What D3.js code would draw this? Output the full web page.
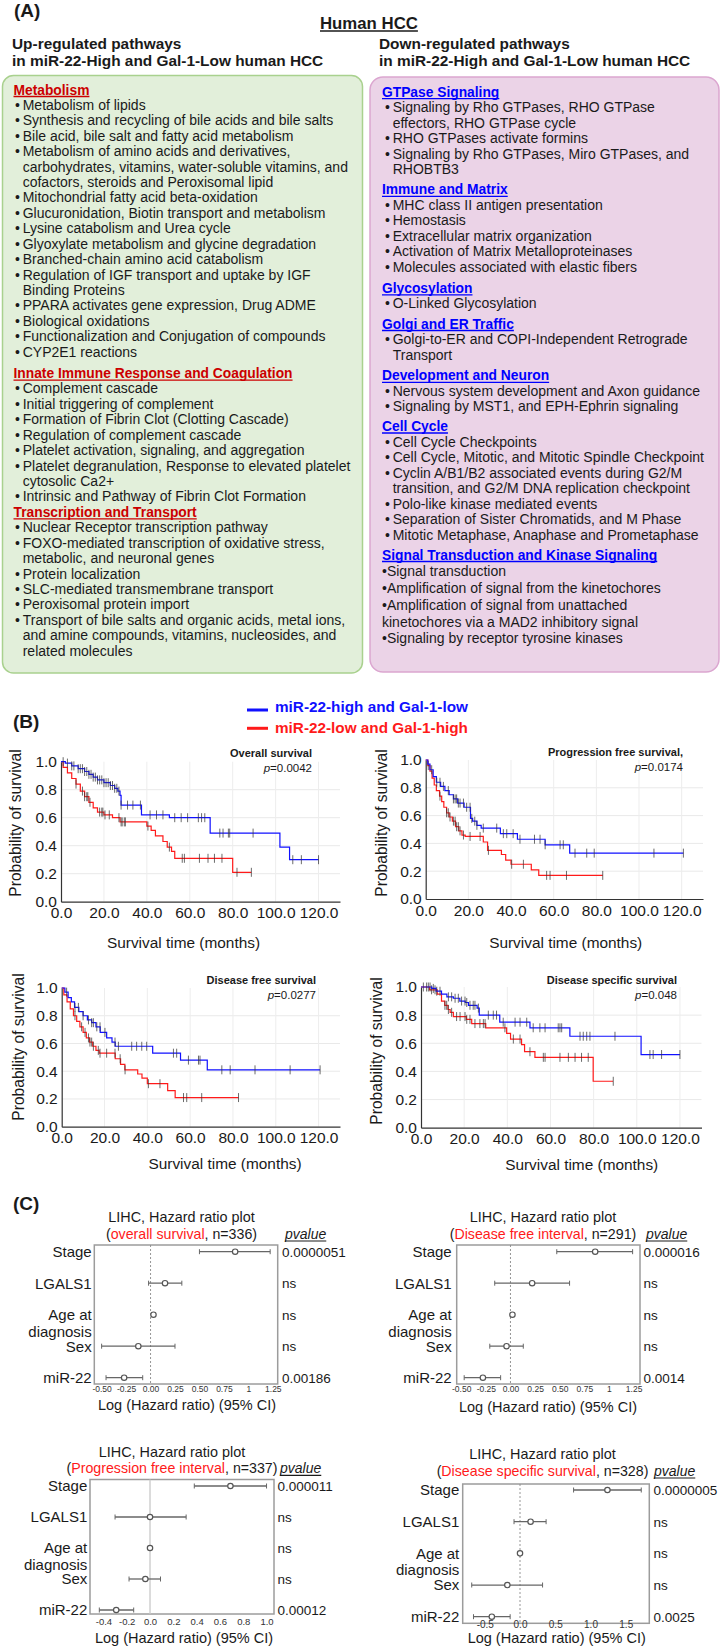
<!DOCTYPE html>
<html>
<head>
<meta charset="utf-8">
<script src="https://cdn.jsdelivr.net/npm/d3@7"></script>
<style>
  body { margin: 0; background: #fff; }
  svg text { font-family: "Liberation Sans", Arial, sans-serif; fill: #1a1a1a; }
</style>
</head>
<body>
<svg id="fig" width="721" height="1651"></svg>
<script>

// ---------- Panel A: pathway lists ----------
const upSections = [
    { title: 'Metabolism', items: [
        'Metabolism of lipids',
        'Synthesis and recycling of bile acids and bile salts',
        'Bile acid, bile salt and fatty acid metabolism',
        'Metabolism of amino acids and derivatives,|carbohydrates, vitamins, water-soluble vitamins, and|cofactors, steroids and Peroxisomal lipid',
        'Mitochondrial fatty acid beta-oxidation',
        'Glucuronidation, Biotin transport and metabolism',
        'Lysine catabolism and Urea cycle',
        'Glyoxylate metabolism and glycine degradation',
        'Branched-chain amino acid catabolism',
        'Regulation of IGF transport and uptake by IGF|Binding Proteins',
        'PPARA activates gene expression, Drug ADME',
        'Biological oxidations',
        'Functionalization and Conjugation of compounds',
        'CYP2E1 reactions'
    ]},
    { title: 'Innate Immune Response and Coagulation', items: [
        'Complement cascade',
        'Initial triggering of complement',
        'Formation of Fibrin Clot (Clotting Cascade)',
        'Regulation of complement cascade',
        'Platelet activation, signaling, and aggregation',
        'Platelet degranulation, Response to elevated platelet|cytosolic Ca2+',
        'Intrinsic and Pathway of Fibrin Clot Formation'
    ]},
    { title: 'Transcription and Transport', items: [
        'Nuclear Receptor transcription pathway',
        'FOXO-mediated transcription of oxidative stress,|metabolic, and neuronal genes',
        'Protein localization',
        'SLC-mediated transmembrane transport',
        'Peroxisomal protein import',
        'Transport of bile salts and organic acids, metal ions,|and amine compounds, vitamins, nucleosides, and|related molecules'
    ]}
];

const downSections = [
    { title: 'GTPase Signaling', items: [
        'Signaling by Rho GTPases, RHO GTPase|effectors, RHO GTPase cycle',
        'RHO GTPases activate formins',
        'Signaling by Rho GTPases, Miro GTPases, and|RHOBTB3'
    ]},
    { title: 'Immune and Matrix', items: [
        'MHC class II antigen presentation',
        'Hemostasis',
        'Extracellular matrix organization',
        'Activation of Matrix Metalloproteinases',
        'Molecules associated with elastic fibers'
    ]},
    { title: 'Glycosylation', items: ['O-Linked Glycosylation'] },
    { title: 'Golgi and ER Traffic', items: ['Golgi-to-ER and COPI-Independent Retrograde|Transport'] },
    { title: 'Development and Neuron', items: [
        'Nervous system development and Axon guidance',
        'Signaling by MST1, and EPH-Ephrin signaling'
    ]},
    { title: 'Cell Cycle', items: [
        'Cell Cycle Checkpoints',
        'Cell Cycle, Mitotic, and Mitotic Spindle Checkpoint',
        'Cyclin A/B1/B2 associated events during G2/M|transition, and G2/M DNA replication checkpoint',
        'Polo-like kinase mediated events',
        'Separation of Sister Chromatids, and M Phase',
        'Mitotic Metaphase, Anaphase and Prometaphase'
    ]},
    { title: 'Signal Transduction and Kinase Signaling', items: [
        'Signal transduction',
        'Amplification of signal from the kinetochores',
        'Amplification of signal from unattached|kinetochores via a MAD2 inhibitory signal',
        'Signaling by receptor tyrosine kinases'
    ]}
];

// ---------- Panel B: Kaplan-Meier steps [month, survival] ----------
const osHigh = [[0,1],[2,0.99],[5,0.97],[8,0.95],[11,0.93],[13,0.91],[15,0.89],[17,0.87],[20,0.85],[23,0.83],[25,0.81],[26.5,0.79],[27.5,0.76],[28,0.69],[37.5,0.62],[50.5,0.60],[69.5,0.49],[102,0.39],[106.5,0.30],[120,0.30]];
const osLow = [[0,1],[1,0.96],[3,0.92],[5,0.88],[7,0.84],[9,0.79],[11,0.75],[13,0.71],[15,0.67],[17,0.64],[20,0.62],[24,0.60],[27.5,0.57],[40,0.54],[42,0.51],[44,0.47],[47.5,0.43],[49.5,0.39],[51.5,0.36],[53,0.31],[80,0.21],[88.7,0.21]];
const osHighCens = [1,3,5,6,8,9,10,11,12,13,14,15,16,17,18,19,20,21,22,23,24,25,26,27,28,31,33.5,37,41.5,44.5,47.5,53,56,59,64,65.5,67,74,75.5,78,78.6,89.5,108,112,120];
const osLowCens = [7,10,11,12,12.5,13.5,18,19,19.5,20.5,22.5,27,28,28.5,29.5,30,40.5,50.5,56.5,57.5,64.5,68.5,71.5,75,82,88.7];

const pfsHigh = [[0,1],[1,0.97],[2,0.93],[3.5,0.88],[5,0.84],[7,0.81],[9,0.78],[11,0.75],[13,0.72],[15,0.69],[18,0.66],[21,0.58],[22,0.56],[24,0.53],[26,0.51],[35,0.47],[43,0.43],[56,0.39],[67.5,0.33],[120.8,0.33]];
const pfsLow = [[0,1],[1,0.96],[2,0.92],[3,0.87],[4,0.82],[5,0.78],[6.5,0.74],[7.5,0.70],[8.5,0.66],[9.8,0.62],[11,0.59],[12.5,0.56],[14,0.52],[15.5,0.49],[17,0.46],[18.5,0.45],[27,0.41],[29,0.35],[35.5,0.32],[37.5,0.28],[40,0.25],[49.5,0.21],[53,0.17],[83,0.17]];
const pfsHighCens = [2.8,5.2,6.7,8.3,10.6,13,13.8,14.5,15.3,16.1,17.7,19.2,20.8,21.6,23,24,27,33.3,36.4,38,41,44.2,51,53.6,56,63,64.5,70,75.5,79,107,120.8];
const pfsLowCens = [1.2,6.7,9.8,10.6,11.4,13,13.8,14.5,15.3,16.1,17.7,20.8,25.5,29.4,40.3,45.8,56.7,58.3,66,83];

const dfsHigh = [[0,1],[1.5,0.97],[3,0.93],[4.5,0.90],[6,0.86],[8,0.83],[10,0.80],[12,0.77],[14,0.75],[16,0.72],[18,0.68],[21,0.64],[23.5,0.61],[25,0.58],[42.5,0.53],[55.5,0.48],[68,0.41],[120.7,0.41]];
const dfsLow = [[0,1],[1,0.95],[2.5,0.90],[4,0.85],[5.5,0.80],[7,0.76],[8.5,0.72],[10,0.68],[11.5,0.64],[13,0.61],[14.5,0.58],[16,0.55],[17.5,0.53],[25,0.49],[27.5,0.45],[29.5,0.41],[35.5,0.38],[37.5,0.35],[40,0.31],[49.5,0.26],[53,0.21],[82.6,0.21]];
const dfsHighCens = [2.3,6.2,7.8,10,12.5,14,14.8,16.4,17.9,20.2,24.9,26.5,32.7,35,37.4,39.7,52.2,53.7,59.2,63.9,64.6,74.8,78.7,90.3,106.7,120.7];
const dfsLowCens = [6.2,9.3,10.9,12.5,13.2,14,14.8,17.1,17.9,21,24.9,27.3,29.6,40.5,45.9,56.9,58.4,65.4,82.6];

const dssHigh = [[0,1],[5,0.99],[7,0.97],[9.5,0.95],[12,0.93],[15,0.92],[18,0.90],[20.5,0.89],[22,0.87],[26,0.85],[27,0.80],[36.5,0.75],[50.5,0.71],[69,0.65],[102,0.52],[120,0.52]];
const dssLow = [[0,1],[4,0.98],[7.5,0.95],[9.5,0.90],[11,0.87],[12.5,0.84],[13.5,0.82],[15,0.79],[21,0.77],[23.5,0.74],[30,0.71],[39.7,0.67],[41.5,0.63],[46.6,0.59],[48,0.54],[52.8,0.50],[79.8,0.33],[89,0.33]];
const dssHighCens = [1.1,2.6,4.2,5.7,7.3,8.8,12.7,14.2,15.8,17.3,18.8,20.4,21.2,22.7,24.2,25,26.6,31.2,33.5,35,38.1,43.6,45.9,49,52,55.1,57.5,63.6,64.4,65.2,73.7,75.2,76.8,78.3,89.9,106.1,107.6,111.5,120];
const dssLowCens = [3.4,4.9,6.5,11.1,11.9,12.7,14.2,16.5,18.1,20.4,21.2,22.7,25,27.3,28.9,29.7,38.9,42.8,45.9,50.5,56.7,57.5,64.4,68.3,71.4,74.4,77.5,89.1];

const kmXTicks = [0, 20, 40, 60, 80, 100, 120];
const kmYTicks = [0, 0.2, 0.4, 0.6, 0.8, 1.0];

// ---------- Panel C: hazard ratio (log) ----------
const hrVariables = ['Stage', 'LGALS1', 'Age at diagnosis', 'Sex', 'miR-22'];

const hrOS = [0.865, 0.148, 0.03, -0.125, -0.27];
const hrOSLo = [0.50, -0.02, 0.03, -0.50, -0.455];
const hrOSHi = [1.223, 0.32, 0.03, 0.25, -0.08];
const hrOSP = ['0.0000051', 'ns', 'ns', 'ns', '0.00186'];

const hrDFI = [0.86, 0.22, 0.02, -0.04, -0.28];
const hrDFILo = [0.47, -0.16, 0.02, -0.21, -0.47];
const hrDFIHi = [1.24, 0.60, 0.02, 0.13, -0.10];
const hrDFIP = ['0.000016', 'ns', 'ns', 'ns', '0.0014'];

const hrPFI = [0.69, 0.0, 0.0, -0.04, -0.29];
const hrPFILo = [0.38, -0.30, 0.0, -0.18, -0.435];
const hrPFIHi = [1.0, 0.31, 0.0, 0.09, -0.14];
const hrPFIP = ['0.000011', 'ns', 'ns', 'ns', '0.00012'];

const hrDSS = [1.24, 0.15, 0.0, -0.18, -0.40];
const hrDSSLo = [0.76, -0.085, 0.0, -0.685, -0.66];
const hrDSSHi = [1.72, 0.37, 0.0, 0.32, -0.14];
const hrDSSP = ['0.0000005', 'ns', 'ns', 'ns', '0.0025'];

const hrTicks1 = [-0.5, -0.25, 0, 0.25, 0.5, 0.75, 1, 1.25];
const hrTickLabels1 = ['-0.50', '-0.25', '0.00', '0.25', '0.50', '0.75', '1', '1.25'];
const hrTicks3 = [-0.4, -0.2, 0, 0.2, 0.4, 0.6, 0.8, 1.0];
const hrTickLabels3 = ['-0.4', '-0.2', '0.0', '0.2', '0.4', '0.6', '0.8', '1.0'];
const hrTicks4 = [-0.5, 0, 0.5, 1, 1.5];
const hrTickLabels4 = ['-0.5', '0.0', '0.5', '1.0', '1.5'];

const BLUE = '#1010ff';
const RED = '#ff1a1a';
const svg = d3.select('#fig');

function label(x, y, txt, size, opts = {}) {
    return svg.append('text')
        .attr('x', x).attr('y', y)
        .attr('font-size', size)
        .attr('font-weight', opts.bold ? 'bold' : null)
        .attr('font-style', opts.italic ? 'italic' : null)
        .attr('text-anchor', opts.anchor || 'start')
        .style('fill', opts.color || null)
        .text(txt);
}

function underline(t, color, w) {
    let x = +t.attr('x');
    let len = t.node().getComputedTextLength();
    if (t.attr('text-anchor') === 'middle') x -= len / 2;
    svg.append('line')
        .attr('x1', x).attr('x2', x + len)
        .attr('y1', +t.attr('y') + 2).attr('y2', +t.attr('y') + 2)
        .attr('stroke', color).attr('stroke-width', w);
}

// ================= Panel A =================
label(14, 17, '(A)', 19, { bold: true });
underline(label(320, 29, 'Human HCC', 16.8, { bold: true }), '#1a1a1a', 1.6);

label(12, 49, 'Up-regulated pathways', 15.4, { bold: true });
label(12, 66, 'in miR-22-High and Gal-1-Low human HCC', 15.4, { bold: true });
label(379, 49, 'Down-regulated pathways', 15.4, { bold: true });
label(379, 66, 'in miR-22-High and Gal-1-Low human HCC', 15.4, { bold: true });

svg.append('rect').attr('x', 2.5).attr('y', 75.5).attr('width', 360).attr('height', 597.5)
    .attr('rx', 11).attr('fill', '#e2efda').attr('stroke', '#a9d18e').attr('stroke-width', 1.5);
svg.append('rect').attr('x', 370).attr('y', 77).attr('width', 349).attr('height', 595)
    .attr('rx', 13).attr('fill', '#ebd3e7').attr('stroke', '#dba6d0').attr('stroke-width', 1.5);

function drawList(sections, o) {
    let y = o.start;
    sections.forEach((sec, si) => {
        if (si > 0) y += o.lineH + o.gaps[si];
        let h = label(o.headX, y, sec.title, 13.8, { bold: true, color: o.headColor });
        underline(h, o.headColor, 1.3);
        let compact = o.compact === si;
        let lh = compact ? o.compactH : o.lineH;
        sec.items.forEach(item => {
            item.split('|').forEach((line, li) => {
                y += lh;
                if (compact) {
                    label(o.headX, y, (li === 0 ? '\u2022' : '') + line, 14);
                } else {
                    if (li === 0) label(o.bulletX, y, '\u2022', 14);
                    label(o.bulletX + 7.7, y, line, 14);
                }
            });
        });
    });
}

drawList(upSections, {
    start: 94.5, lineH: 15.42, gaps: [0, 6, 0],
    headX: 13.5, bulletX: 15, headColor: '#cc0000', compact: -1
});
drawList(downSections, {
    start: 96.7, lineH: 15.5, gaps: [0, 4.6, 5.6, 4.6, 5.3, 4.2, 4.5],
    headX: 382, bulletX: 385, headColor: '#0000ff', compact: 6, compactH: 16.75
});

// ================= Panel B =================
label(13, 728, '(B)', 19, { bold: true });
svg.append('line').attr('x1', 247).attr('x2', 268).attr('y1', 710).attr('y2', 710)
    .attr('stroke', BLUE).attr('stroke-width', 3);
label(275, 712, 'miR-22-high and Gal-1-low', 15.3, { bold: true, color: BLUE });
svg.append('line').attr('x1', 247).attr('x2', 268).attr('y1', 728.3).attr('y2', 728.3)
    .attr('stroke', RED).attr('stroke-width', 3);
label(275, 733.3, 'miR-22-low and Gal-1-high', 15.3, { bold: true, color: RED });

function survAt(steps, t) {
    let v = steps[0][1];
    steps.forEach(s => { if (s[0] <= t) v = s[1]; });
    return v;
}

const kmPanels = [
    { high: osHigh, low: osLow, highCens: osHighCens, lowCens: osLowCens,
      title: 'Overall survival', p: '0.0042',
      left: 61, right: 340, top: 761.7, bottom: 901.7, titleX: 312, titleY: 757,
      yLabX: 15, yLabY: 823, xLabX: 183.5, xLabY: 948 },
    { high: pfsHigh, low: pfsLow, highCens: pfsHighCens, lowCens: pfsLowCens,
      title: 'Progression free survival,', p: '0.0174',
      left: 425.7, right: 703, top: 760, bottom: 899, titleX: 683, titleY: 756,
      yLabX: 381.7, yLabY: 823, xLabX: 565.7, xLabY: 948 },
    { high: dfsHigh, low: dfsLow, highCens: dfsHighCens, lowCens: dfsLowCens,
      title: 'Disease free survival', p: '0.0277',
      left: 61.7, right: 340, top: 988, bottom: 1126.7, titleX: 316, titleY: 984,
      yLabX: 18, yLabY: 1047, xLabX: 225, xLabY: 1169 },
    { high: dssHigh, low: dssLow, highCens: dssHighCens, lowCens: dssLowCens,
      title: 'Disease specific survival', p: '0.048',
      left: 421, right: 701.5, top: 987, bottom: 1127.7, titleX: 677, titleY: 984,
      yLabX: 376, yLabY: 1051, xLabX: 581.7, xLabY: 1170 }
];

function drawKM(k) {
    let x = d3.scaleLinear().domain([0, 130]).range([k.left, k.right]);
    let y = d3.scaleLinear().domain([0, 1]).range([k.bottom, k.top]);
    let g = svg.append('g');

    g.selectAll('line.hg').data(kmYTicks.slice(1, -1)).join('line')
        .attr('x1', x(0)).attr('x2', x(130))
        .attr('y1', d => y(d)).attr('y2', d => y(d))
        .attr('stroke', '#e9e9e9');
    g.selectAll('line.vg').data(kmXTicks.slice(1)).join('line')
        .attr('x1', d => x(d)).attr('x2', d => x(d))
        .attr('y1', y(0)).attr('y2', y(1))
        .attr('stroke', '#ededed');

    let xa = g.append('g').attr('transform', `translate(0,${y(0)})`)
        .call(d3.axisBottom(x).tickValues(kmXTicks).tickFormat(d3.format('.1f')).tickSize(0).tickPadding(5.5));
    let ya = g.append('g').attr('transform', `translate(${x(0)},0)`)
        .call(d3.axisLeft(y).tickValues(kmYTicks).tickFormat(d3.format('.1f')).tickSize(0).tickPadding(4));
    [xa, ya].forEach(a => {
        a.select('.domain').attr('stroke', '#333').attr('stroke-width', 1.2);
        a.selectAll('text').attr('font-size', 15.5).attr('font-family', null).style('fill', '#1a1a1a');
    });

    let line = d3.line().x(d => x(d[0])).y(d => y(d[1])).curve(d3.curveStepAfter);
    [[k.low, RED, k.lowCens], [k.high, BLUE, k.highCens]].forEach(([steps, col, cens]) => {
        g.append('path').attr('d', line(steps)).attr('fill', 'none')
            .attr('stroke', col).attr('stroke-width', 1.2);
        g.selectAll(null).data(cens).join('line')
            .attr('x1', d => x(d)).attr('x2', d => x(d))
            .attr('y1', d => y(survAt(steps, d)) - 4.5).attr('y2', d => y(survAt(steps, d)) + 4.5)
            .attr('stroke', '#3a3a3a').attr('stroke-opacity', 0.75).attr('stroke-width', 1);
    });

    label(k.titleX, k.titleY, k.title, 11, { bold: true, anchor: 'end' });
    let pt = label(k.titleX, k.titleY + 14.5, '', 11.5, { anchor: 'end' });
    pt.append('tspan').attr('font-style', 'italic').text('p');
    pt.append('tspan').text('=' + k.p);

    svg.append('text')
        .attr('transform', `translate(${k.yLabX},${k.yLabY}) rotate(-90)`)
        .attr('text-anchor', 'middle').attr('dominant-baseline', 'central')
        .attr('font-size', 15.6).text('Probability of survival');
    label(k.xLabX, k.xLabY, 'Survival time (months)', 15.4, { anchor: 'middle' });
}
kmPanels.forEach(drawKM);

// ================= Panel C =================
label(13, 1209.5, '(C)', 19, { bold: true });

const hrPanels = [
    { est: hrOS, lo: hrOSLo, hi: hrOSHi, pv: hrOSP, what: 'overall survival', n: 'n=336',
      ticks: hrTicks1, tickLabels: hrTickLabels1, tickSize: 8.5, domain: [-0.575, 1.3], zeroDash: '2,2',
      left: 94.3, right: 277.7, top: 1245, bottom: 1384, rowTop: 1251.7, rowBot: 1377.7,
      titleX: 181.5, titleY: 1222.3, pvX: 285, labX: 91.7, pX: 282, tickY: 1391.7, axX: 187, axY: 1410 },
    { est: hrDFI, lo: hrDFILo, hi: hrDFIHi, pv: hrDFIP, what: 'Disease free interval', n: 'n=291',
      ticks: hrTicks1, tickLabels: hrTickLabels1, tickSize: 8.5, domain: [-0.546, 1.315], zeroDash: '2,2',
      left: 456.7, right: 640, top: 1245, bottom: 1384, rowTop: 1251.7, rowBot: 1377.7,
      titleX: 543, titleY: 1222.3, pvX: 646, labX: 451.7, pX: 643.5, tickY: 1391.7, axX: 548, axY: 1411.7 },
    { est: hrPFI, lo: hrPFILo, hi: hrPFIHi, pv: hrPFIP, what: 'Progression free interval', n: 'n=337',
      ticks: hrTicks3, tickLabels: hrTickLabels3, tickSize: 9.5, domain: [-0.515, 1.064], zeroDash: null,
      left: 90, right: 274, top: 1479.5, bottom: 1614, rowTop: 1486, rowBot: 1610,
      titleX: 172, titleY: 1456.7, pvX: 280, labX: 87.3, pX: 277.5, tickY: 1625, axX: 184, axY: 1643.3 },
    { est: hrDSS, lo: hrDSSLo, hi: hrDSSHi, pv: hrDSSP, what: 'Disease specific survival', n: 'n=328',
      ticks: hrTicks4, tickLabels: hrTickLabels4, tickSize: 10, domain: [-0.813, 1.834], zeroDash: '2,2',
      left: 462.7, right: 649.3, top: 1484, bottom: 1623.3, rowTop: 1490, rowBot: 1616.7,
      titleX: 542.5, titleY: 1459.3, pvX: 654, labX: 459.3, pX: 653.5, tickY: 1628.3, axX: 556.7, axY: 1643 }
];

function drawForest(f) {
    let x = d3.scaleLinear().domain(f.domain).range([f.left, f.right]);
    let y = d3.scalePoint().domain(hrVariables).range([f.rowTop, f.rowBot]);
    let g = svg.append('g');
    let rows = hrVariables.map((v, i) => ({ v, est: f.est[i], lo: f.lo[i], hi: f.hi[i], p: f.pv[i] }));

    g.append('rect').attr('x', f.left).attr('y', f.top)
        .attr('width', f.right - f.left).attr('height', f.bottom - f.top)
        .attr('fill', 'none').attr('stroke', '#9c9c9c').attr('stroke-width', 1.5);
    g.append('line').attr('x1', x(0)).attr('x2', x(0)).attr('y1', f.top).attr('y2', f.bottom)
        .attr('stroke', f.zeroDash ? '#8a8a8a' : '#c8c8c8')
        .attr('stroke-dasharray', f.zeroDash).attr('stroke-width', f.zeroDash ? 0.9 : 1.3);

    let ax = g.append('g').attr('transform', `translate(0,${f.bottom})`)
        .call(d3.axisBottom(x).tickValues(f.ticks).tickFormat((d, i) => f.tickLabels[i]).tickSize(0)
            .tickPadding(f.tickY - f.bottom - f.tickSize * 0.71));
    ax.select('.domain').remove();
    ax.selectAll('text').attr('font-size', f.tickSize).attr('font-family', null).style('fill', '#333');

    g.selectAll('line.ci').data(rows).join('line')
        .attr('x1', d => x(d.lo)).attr('x2', d => x(d.hi))
        .attr('y1', d => y(d.v)).attr('y2', d => y(d.v))
        .attr('stroke', '#666').attr('stroke-width', 1.3);
    ['lo', 'hi'].forEach(end => {
        g.selectAll(null).data(rows.filter(d => d.hi > d.lo)).join('line')
            .attr('x1', d => x(d[end])).attr('x2', d => x(d[end]))
            .attr('y1', d => y(d.v) - 2.5).attr('y2', d => y(d.v) + 2.5)
            .attr('stroke', '#666').attr('stroke-width', 1);
    });
    g.selectAll('circle').data(rows).join('circle')
        .attr('cx', d => x(d.est)).attr('cy', d => y(d.v)).attr('r', 2.7)
        .attr('fill', '#fff').attr('stroke', '#555').attr('stroke-width', 1.2);

    rows.forEach(d => {
        let parts = d.v === 'Age at diagnosis' ? ['Age at', 'diagnosis'] : [d.v];
        parts.forEach((t, i) => {
            label(f.labX, y(d.v) + 5.3 + i * 16.5, t, 15, { anchor: 'end' });
        });
        label(f.pX, y(d.v) + 5, d.p, 13.5);
    });

    label(f.titleX, f.titleY, 'LIHC, Hazard ratio plot', 14.4, { anchor: 'middle' });
    let t2 = label(f.titleX, f.titleY + 16.7, '', 14.2, { anchor: 'middle' });
    t2.append('tspan').text('(');
    t2.append('tspan').style('fill', RED).text(f.what);
    t2.append('tspan').text(', ' + f.n + ')');
    let pv = label(f.pvX, f.titleY + 16.7, 'pvalue', 14, { italic: true });
    underline(pv, '#1a1a1a', 1.2);

    label(f.axX, f.axY, 'Log (Hazard ratio) (95% CI)', 14.5, { anchor: 'middle' });
}
hrPanels.forEach(drawForest);

</script>
</body>
</html>
